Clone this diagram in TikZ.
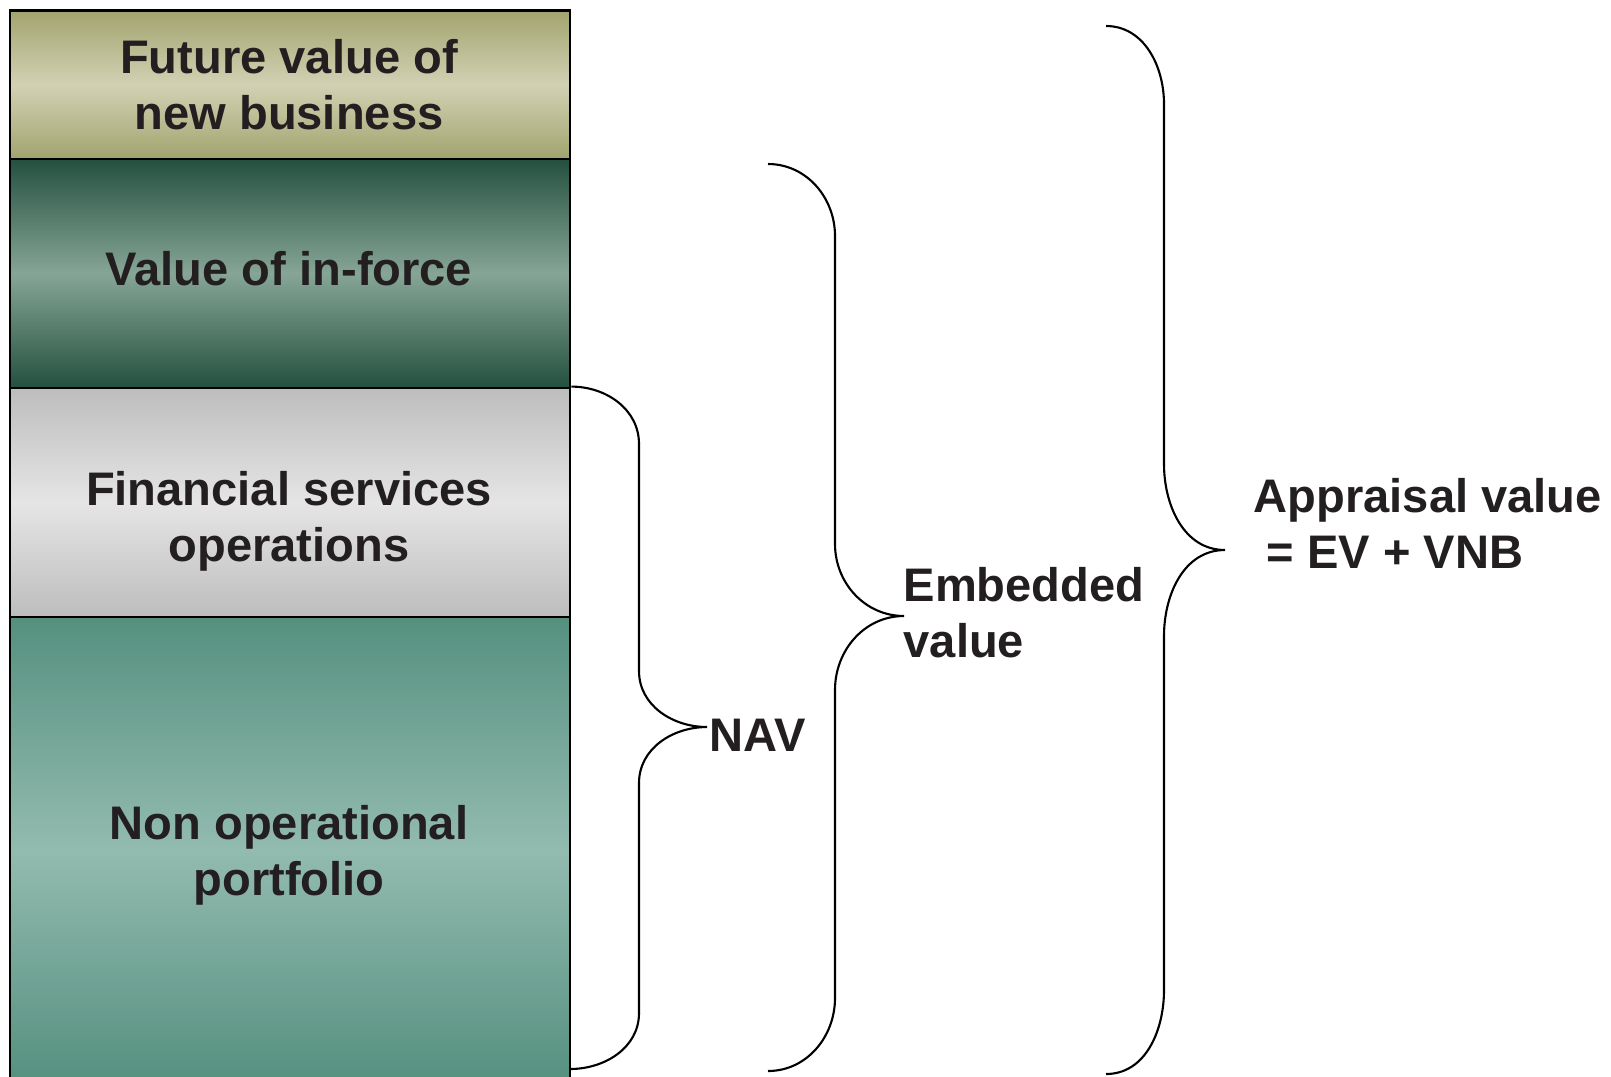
\documentclass[tikz,border=0pt]{standalone}
\usepackage{fontspec}
\setmainfont{Liberation Sans}
\usepackage{tikz}

\definecolor{txt}{HTML}{231F20}
\definecolor{oliveedge}{HTML}{A2A46E}
\definecolor{olivemid}{HTML}{D2D1B4}
\definecolor{forestedge}{HTML}{24503F}
\definecolor{forestmid}{HTML}{86A596}
\definecolor{greyedge}{HTML}{BDBDBD}
\definecolor{greymid}{HTML}{E5E5E5}
\definecolor{tealedge}{HTML}{55907F}
\definecolor{tealmid}{HTML}{93BBB0}

\begin{document}
\begin{tikzpicture}[scale=1,
		bar/.style={draw, line width=0.8pt, minimum width=5.6cm, inner sep=0pt},
		lbl/.style={text=txt, font=\fontsize{13.4}{16}\selectfont\bfseries, align=center, inner sep=0pt},
		side/.style={lbl, align=left, anchor=west},
		brace/.style={line width=0.6pt}]
		\useasboundingbox (0,0) rectangle (16.11,-10.76);
		
		\node[bar, minimum height=1.487cm, top color=oliveedge, bottom color=oliveedge, middle color=olivemid] (fvnb) at (2.90,-0.847) {};
		\node[bar, minimum height=2.29cm, top color=forestedge, bottom color=forestedge, middle color=forestmid] (vif) at (2.90,-2.735) {};
		\node[bar, minimum height=2.29cm, top color=greyedge, bottom color=greyedge, middle color=greymid] (fso) at (2.90,-5.025) {};
		\node[bar, minimum height=4.66cm, top color=tealedge, bottom color=tealedge, middle color=tealmid] (nop) at (2.90,-8.50) {};
		
		\node[lbl] (fvnbtxt) at (2.89,-0.85) {Future value of\\new business};
		\node[lbl] (viftxt) at (2.89,-2.69) {Value of in-force};
		\node[lbl] (fsotxt) at (2.89,-5.215) {Financial services\\operations};
		\node[lbl] (noptxt) at (2.89,-8.55) {Non operational\\portfolio};
		
		\coordinate (navtip) at (7.07,-7.27);
		\coordinate (navbot) at (5.70,-10.69);
		\coordinate (evtop) at (7.68,-1.64);
		\coordinate (evtip) at (9.04,-6.16);
		\coordinate (evbot) at (7.68,-10.71);
		\coordinate (avtop) at (11.06,-0.26);
		\coordinate (avtip) at (12.25,-5.50);
		\coordinate (avbot) at (11.06,-10.74);
		
		\node[side] (nav) at (7.09,-7.35) {NAV};
		\node[side] (ev) at (9.03,-6.125) {Embedded\\value};
		\node[side] (av) at (12.53,-5.235) {Appraisal value\\\hspace*{0.28em}= EV + VNB};
		
		\draw[brace] (fso.north east) to[out=0,in=90] (6.39,-4.44) -- (6.39,-6.71) to[out=-90,in=180] (navtip) to[out=180,in=90] (6.39,-7.83) -- (6.39,-10.13) to[out=-90,in=0] (navbot);
		\draw[brace] (evtop) to[out=0,in=90] (8.35,-2.36) -- (8.35,-5.44) to[out=-90,in=180] (evtip) to[out=180,in=90] (8.35,-6.90) -- (8.35,-9.98) to[out=-90,in=0] (evbot);
		\draw[brace] (avtop) to[out=0,in=90] (11.64,-1.04) -- (11.64,-4.64) to[out=-90,in=180] (avtip) to[out=180,in=90] (11.64,-6.36) -- (11.64,-9.90) to[out=-90,in=0] (avbot);
		
		\end{tikzpicture}
\end{document}
